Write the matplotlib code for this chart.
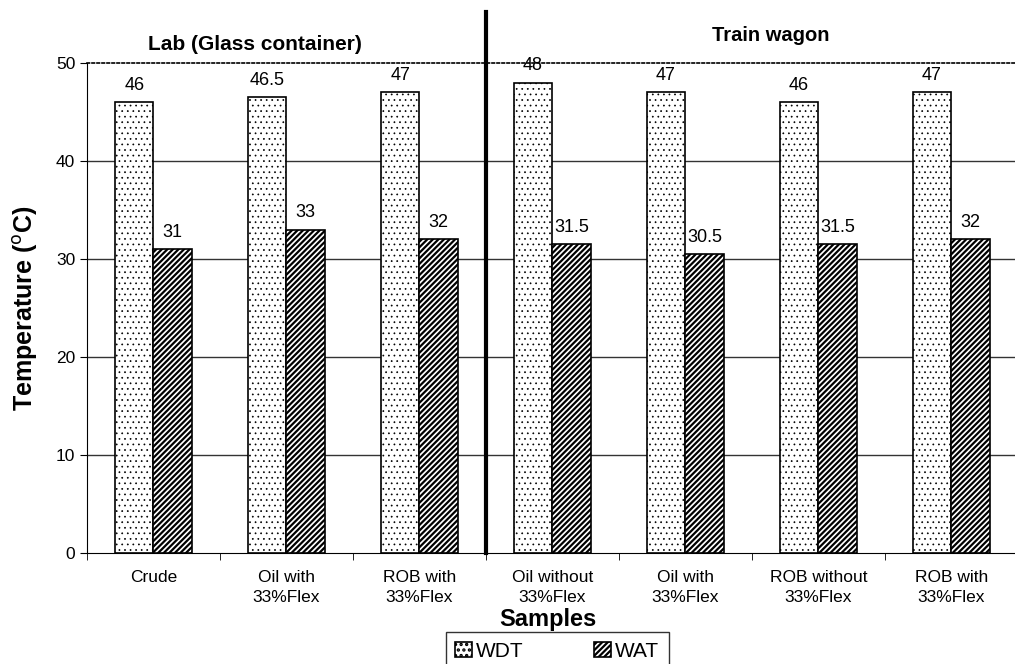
import numpy as np
import matplotlib.pyplot as plt

plt.rcParams['font.family'] = ['Liberation Sans', 'DejaVu Sans']
plt.rcParams['hatch.linewidth'] = 1.6

samples = ["Crude", "Oil with\n33%Flex", "ROB with\n33%Flex", "Oil without\n33%Flex",
           "Oil with\n33%Flex", "ROB without\n33%Flex", "ROB with\n33%Flex"]
wdt = [46, 46.5, 47, 48, 47, 46, 47]
wat = [31, 33, 32, 31.5, 30.5, 31.5, 32]
y_ticks = [0, 10, 20, 30, 40, 50]


def main():
    fig = plt.figure(figsize=(10.15, 6.64), dpi=100)
    ax = fig.add_axes([0.0857, 0.167, 0.917, 0.738])

    x = np.arange(len(samples))
    w = 0.29
    b1 = ax.bar(x - w / 2, wdt, w, color='white', edgecolor='black', lw=1.2,
                hatch='...', label='WDT', zorder=3)
    b2 = ax.bar(x + w / 2, wat, w, color='white', edgecolor='black', lw=1.2,
                hatch='//////', label='WAT', zorder=3)
    # dots lighter than the stripes
    for p in b1:
        p.set_hatch_linewidth(0.5)

    for bars, vals in ((b1, wdt), (b2, wat)):
        for p, v in zip(bars, vals):
            ax.annotate("%g" % v, (p.get_x() + p.get_width() / 2, v),
                        xytext=(0, 6), textcoords='offset points',
                        ha='center', va='bottom', fontsize=13)

    ax.set_xlim(-0.5, len(samples) - 0.5)
    ax.set_ylim(0, 50)
    ax.set_yticks(y_ticks)
    ax.hlines(y_ticks[1:-1], -0.5, len(samples) - 0.5, color='#333333', lw=1, zorder=1)

    ax.set_xticks(x)
    ax.set_xticklabels(samples, fontsize=12.5, linespacing=1.45)
    ax.set_xticks(np.arange(len(samples) + 1) - 0.5, minor=True)
    ax.tick_params(axis='x', which='major', length=0, pad=12)
    ax.tick_params(axis='x', which='minor', length=5, direction='out')
    ax.tick_params(axis='y', labelsize=12.5, length=5, direction='out')

    ax.spines['right'].set_visible(False)
    ax.spines['top'].set_linestyle((0, (1.5, 1.5)))
    ax.spines['top'].set_linewidth(1.2)

    # separator between lab and train wagon groups
    ax.plot([2.5, 2.5], [0, 55.2], color='black', lw=3, clip_on=False, zorder=5)

    ax.text(0.76, 50.9, "Lab (Glass container)", ha='center', va='bottom',
            fontsize=15, fontweight='bold')
    ax.text(4.64, 51.8, "Train wagon", ha='center', va='bottom',
            fontsize=14.5, fontweight='bold')

    ax.set_ylabel("Temperature ($^{\\mathrm{o}}$C)", fontsize=18, fontweight='bold')
    ax.yaxis.set_label_coords(-0.050, 0.5)
    fig.text(0.54, 0.067, "Samples", ha='center', va='center',
             fontsize=17, fontweight='bold')

    fig.legend(handles=[b1, b2], loc='upper center', bbox_to_anchor=(0.549, 0.048),
               ncol=2, fontsize=15, frameon=True, fancybox=False, edgecolor='black',
               handlelength=0.8, handleheight=0.8, handletextpad=0.2,
               columnspacing=3.4, borderpad=0.45, borderaxespad=0)

    plt.savefig("out.png", dpi=100)


if __name__ == "__main__":
    main()
